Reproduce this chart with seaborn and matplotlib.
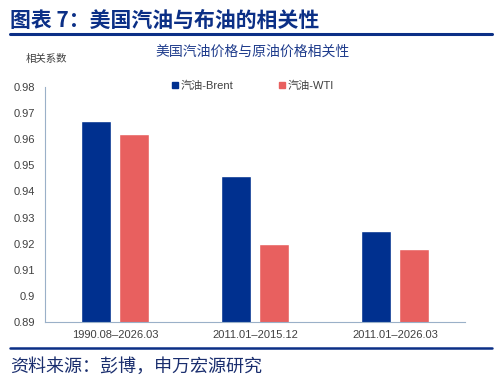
import matplotlib
matplotlib.use("Agg")
import matplotlib.pyplot as plt
import seaborn as sns
import pandas as pd
from matplotlib.lines import Line2D
from matplotlib.ticker import FixedLocator

periods = ["1990.08–2026.03", "2011.01–2015.12", "2011.01–2026.03"]
brent = [0.967, 0.946, 0.925]
wti = [0.962, 0.920, 0.918]
series = ["汽油-Brent", "汽油-WTI"]
colors = ["#00308F", "#E8605F"]
yticks = [0.89, 0.90, 0.91, 0.92, 0.93, 0.94, 0.95, 0.96, 0.97, 0.98]
ytick_labels = ["0.89", "0.9", "0.91", "0.92", "0.93", "0.94", "0.95", "0.96", "0.97", "0.98"]

sns.set_style("white")
plt.rcParams['font.family'] = ['Liberation Sans', 'Noto Sans CJK SC', 'DejaVu Sans']

df = pd.DataFrame({
    "period": periods * 2,
    "value": brent + wti,
    "series": [series[0]] * 3 + [series[1]] * 3,
})

fig = plt.figure(figsize=(4.96, 3.82), dpi=100)
ax = fig.add_axes([45/496, 1 - 322/382, 420/496, 235/382])

sns.barplot(data=df, x="period", y="value", hue="series", palette=colors,
            width=0.543, gap=0.21, ax=ax, legend=False, saturation=1)

ax.set_ylim(0.89, 0.98)
ax.set_xlim(-0.5, 2.5)
ax.set_yticks(yticks)
ax.set_yticklabels(ytick_labels, fontsize=8, color="#404040")
ax.set_xlabel("")
ax.set_ylabel("")
ax.tick_params(axis="x", length=0, labelsize=8, labelcolor="#404040", pad=6)
ax.xaxis.set_minor_locator(FixedLocator([-0.5, 0.5, 1.5, 2.5]))
ax.tick_params(axis="x", which="minor", length=4, color="#9AB0C8", direction="out")
ax.tick_params(axis="y", length=4, color="#9AB0C8", direction="out", pad=3)
for s in ["top", "right"]:
    ax.spines[s].set_visible(False)
for s in ["left", "bottom"]:
    ax.spines[s].set_color("#9AB0C8")
    ax.spines[s].set_linewidth(0.8)

# legend
handles = [Line2D([], [], marker="s", linestyle="", color=c, markersize=5) for c in colors]
fig.legend(handles, series, loc="center left", bbox_to_anchor=(161/496, 1 - 86/382),
           ncol=2, frameon=False, fontsize=8, handletextpad=0.1, columnspacing=3.9,
           labelcolor="#404040", handlelength=0.8)

# texts
fig.text(10/496, 1 - 20/382, "图表 7：美国汽油与布油的相关性", fontsize=15, fontweight="bold",
         color="#0B2F86", va="center", ha="left",
         family=['Noto Sans CJK SC', 'DejaVu Sans'])
fig.add_artist(Line2D([10/496, 492/496], [1 - 34/382, 1 - 34/382], color="#0B2F86", linewidth=2.2))
fig.text(253/496, 1 - 52/382, "美国汽油价格与原油价格相关性", fontsize=10, color="#1F3C8C",
         va="center", ha="center", family=['Noto Sans CJK SC', 'DejaVu Sans'])
fig.text(26/496, 1 - 59/382, "相关系数", fontsize=7.5, color="#404040",
         va="center", ha="left", family=['Noto Sans CJK SC', 'DejaVu Sans'])
fig.add_artist(Line2D([10/496, 492/496], [1 - 348/382, 1 - 348/382], color="#0B2F86", linewidth=1.8))
fig.text(10/496, 1 - 367/382, "资料来源：彭博，申万宏源研究", fontsize=13, color="#1A2E6E",
         va="center", ha="left", family=['Noto Sans CJK SC', 'DejaVu Sans'])

fig.savefig("out.png", dpi=100)
